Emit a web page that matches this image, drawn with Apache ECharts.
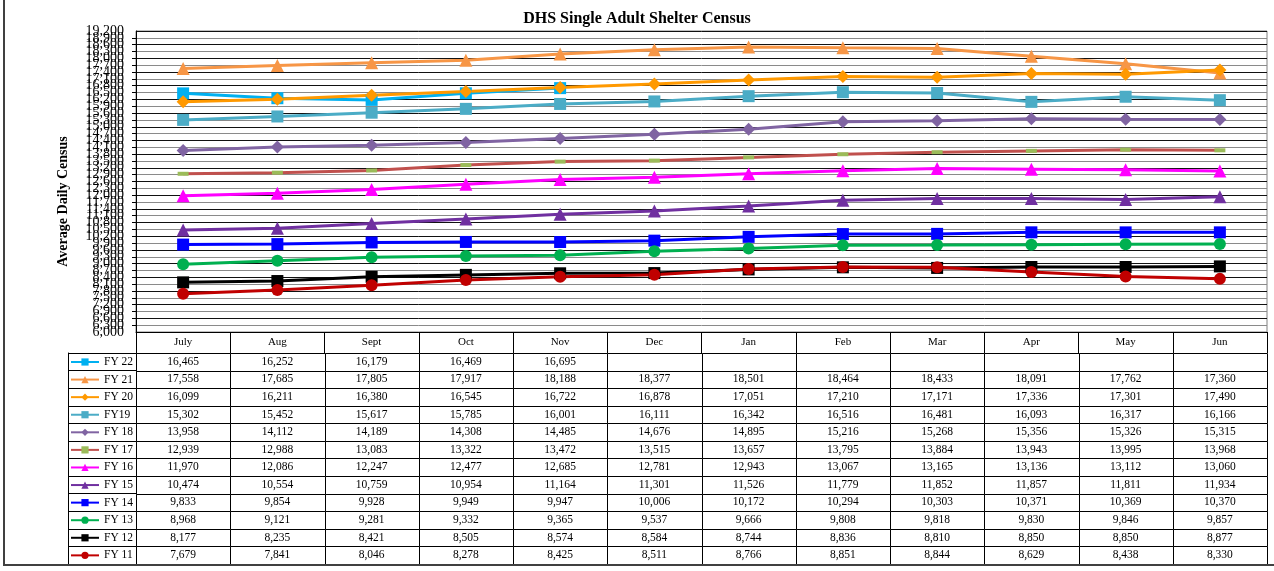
<!DOCTYPE html>
<html>
<head>
<meta charset="utf-8">
<title>DHS Single Adult Shelter Census</title>
<script src="https://cdn.jsdelivr.net/npm/echarts@6/dist/echarts.min.js"></script>
<style>
  html, body { margin: 0; padding: 0; background: #fff; }
  #chart { width: 1274px; height: 571px; }
</style>
</head>
<body>
<div id="chart"></div>
<script>
// months of the fiscal year (July - June)
const months = ['July', 'Aug', 'Sept', 'Oct', 'Nov', 'Dec', 'Jan', 'Feb', 'Mar', 'Apr', 'May', 'Jun'];

// average daily census per fiscal year
const fy22 = [16465, 16252, 16179, 16469, 16695, null, null, null, null, null, null, null];
const fy21 = [17558, 17685, 17805, 17917, 18188, 18377, 18501, 18464, 18433, 18091, 17762, 17360];
const fy20 = [16099, 16211, 16380, 16545, 16722, 16878, 17051, 17210, 17171, 17336, 17301, 17490];
const fy19 = [15302, 15452, 15617, 15785, 16001, 16111, 16342, 16516, 16481, 16093, 16317, 16166];
const fy18 = [13958, 14112, 14189, 14308, 14485, 14676, 14895, 15216, 15268, 15356, 15326, 15315];
const fy17 = [12939, 12988, 13083, 13322, 13472, 13515, 13657, 13795, 13884, 13943, 13995, 13968];
const fy16 = [11970, 12086, 12247, 12477, 12685, 12781, 12943, 13067, 13165, 13136, 13112, 13060];
const fy15 = [10474, 10554, 10759, 10954, 11164, 11301, 11526, 11779, 11852, 11857, 11811, 11934];
const fy14 = [9833, 9854, 9928, 9949, 9947, 10006, 10172, 10294, 10303, 10371, 10369, 10370];
const fy13 = [8968, 9121, 9281, 9332, 9365, 9537, 9666, 9808, 9818, 9830, 9846, 9857];
const fy12 = [8177, 8235, 8421, 8505, 8574, 8584, 8744, 8836, 8810, 8850, 8850, 8877];
const fy11 = [7679, 7841, 8046, 8278, 8425, 8511, 8766, 8851, 8844, 8629, 8438, 8330];

const names = ['FY 22', 'FY 21', 'FY 20', 'FY19', 'FY 18', 'FY 17', 'FY 16', 'FY 15', 'FY 14', 'FY 13', 'FY 12', 'FY 11'];
const rows = [fy22, fy21, fy20, fy19, fy18, fy17, fy16, fy15, fy14, fy13, fy12, fy11];

// y axis range
const yMin = 6000;
const yMax = 19200;
const yStep = 300;

const serif = '"Liberation Serif", "Times New Roman", serif';

function fmt (v) {
  return v == null ? '' : v.toLocaleString('en-US');
}

function lineSeries (i, color, symbol, size, markerColor) {
  return {
    name: names[i],
    type: 'line',
    xAxisIndex: 0,
    yAxisIndex: 0,
    data: rows[i],
    symbol: symbol,
    symbolSize: size,
    showAllSymbol: true,
    connectNulls: false,
    lineStyle: { color: color, width: 3 },
    itemStyle: { color: markerColor || color, borderWidth: 0 },
    emphasis: { disabled: true }
  };
}

// one cell per fiscal year / month for the data table
const cells = [];
rows.forEach((r, ri) => {
  months.forEach((m, ci) => {
    cells.push([ci, ri]);
  });
});

const yLabelStyle = {
  margin: 12,
  fontFamily: serif,
  fontSize: 14,
  color: '#000'
};

let myChart = echarts.init(document.getElementById('chart'));
myChart.setOption({
  animation: false,
  backgroundColor: '#fff',
  title: {
    text: 'DHS Single Adult Shelter Census',
    left: 'center',
    top: 6,
    textStyle: {
      fontFamily: serif,
      fontSize: 16,
      fontWeight: 'bold',
      color: '#000'
    }
  },
  legend: {
    data: names,
    orient: 'vertical',
    left: 70,
    top: 353.2,
    padding: 0,
    itemGap: 0,
    itemWidth: 28,
    itemHeight: 9,
    selectedMode: false,
    textStyle: {
      fontFamily: serif,
      fontSize: 11.5,
      color: '#000',
      lineHeight: 17.58
    }
  },
  grid: [
    {
      left: 136,
      right: 7,
      top: 31,
      height: 301,
      show: true,
      borderColor: '#808080',
      borderWidth: 1
    },
    {
      left: 136,
      right: 7,
      top: 353,
      height: 211
    }
  ],
  xAxis: [
    {
      gridIndex: 0,
      type: 'category',
      data: months,
      boundaryGap: true,
      axisLine: { lineStyle: { color: '#000', width: 1 } },
      axisTick: {
        show: true,
        interval: 0,
        length: 21,
        lineStyle: { color: '#000' }
      },
      axisLabel: {
        interval: 0,
        margin: 4.5,
        fontFamily: serif,
        fontSize: 11,
        color: '#000'
      },
      splitLine: { show: false }
    },
    {
      gridIndex: 1,
      type: 'category',
      data: months,
      show: false
    }
  ],
  yAxis: [
    {
      gridIndex: 0,
      type: 'value',
      position: 'left',
      min: yMin,
      max: yMax,
      interval: yStep,
      name: 'Average Daily Census',
      nameLocation: 'middle',
      nameGap: 66,
      nameTextStyle: {
        fontFamily: serif,
        fontSize: 14,
        fontWeight: 'bold',
        color: '#000',
        padding: [0, 40, 0, 0]
      },
      axisLine: { show: true, lineStyle: { color: '#000', width: 1 } },
      axisTick: { show: true, length: 4, lineStyle: { color: '#000' } },
      // end labels come from the helper axis below, so crowded inner labels are all kept
      axisLabel: Object.assign({
        showMinLabel: false,
        showMaxLabel: false,
        formatter: function (v) { return fmt(v); }
      }, yLabelStyle),
      splitLine: {
        show: true,
        lineStyle: { color: ['#111', '#8a8a8a'], width: 1 }
      }
    },
    {
      gridIndex: 1,
      type: 'category',
      data: names,
      inverse: true,
      position: 'left',
      axisLine: { show: true, lineStyle: { color: '#000' } },
      axisTick: {
        show: true,
        interval: 0,
        length: 68,
        lineStyle: { color: '#000' }
      },
      axisLabel: { show: false },
      splitLine: { show: false }
    },
    {
      // left border of the legend column
      gridIndex: 1,
      type: 'category',
      data: names,
      inverse: true,
      position: 'left',
      offset: 68,
      axisLine: { show: true, lineStyle: { color: '#000' } },
      axisTick: { show: false },
      axisLabel: { show: false },
      splitLine: { show: false }
    },
    {
      // helper axis: only the 6,000 and 19,200 labels
      gridIndex: 0,
      type: 'value',
      position: 'left',
      min: yMin,
      max: yMax,
      interval: yStep,
      axisLine: { show: false },
      axisTick: { show: false },
      splitLine: { show: false },
      axisLabel: Object.assign({
        showMinLabel: true,
        showMaxLabel: true,
        formatter: function (v) { return (v === yMin || v === yMax) ? fmt(v) : ''; }
      }, yLabelStyle)
    }
  ],
  series: [
    lineSeries(0, '#00B0F0', 'rect', 12),
    lineSeries(1, '#F79646', 'triangle', 13),
    lineSeries(2, '#FF9900', 'diamond', 13),
    lineSeries(3, '#4BACC6', 'rect', 12),
    lineSeries(4, '#8064A2', 'diamond', 13),
    lineSeries(5, '#C0504D', 'rect', [11, 4], '#9BBB59'),
    lineSeries(6, '#FF00FF', 'triangle', 13),
    lineSeries(7, '#7030A0', 'triangle', 13),
    lineSeries(8, '#0000FF', 'rect', 12),
    lineSeries(9, '#00B050', 'circle', 12),
    lineSeries(10, '#000000', 'rect', 12),
    lineSeries(11, '#C00000', 'circle', 12),
    {
      name: 'table',
      type: 'custom',
      xAxisIndex: 1,
      yAxisIndex: 1,
      silent: true,
      data: cells,
      encode: { x: 0, y: 1 },
      renderItem: function (params, api) {
        let col = api.value(0);
        let row = api.value(1);
        let p = api.coord([col, row]);
        let s = api.size([1, 1]);
        let x0 = Math.round(p[0] - s[0] / 2) + 0.5;
        let x1 = Math.round(p[0] + s[0] / 2) + 0.5;
        let y0 = Math.round(p[1] - s[1] / 2) + 0.5;
        let y1 = Math.round(p[1] + s[1] / 2) + 0.5;
        return {
          type: 'group',
          children: [
            {
              type: 'rect',
              shape: { x: x0, y: y0, width: x1 - x0, height: y1 - y0 },
              style: { fill: '#fff', stroke: '#000', lineWidth: 1 }
            },
            {
              type: 'text',
              x: p[0],
              y: p[1],
              style: {
                text: fmt(rows[row][col]),
                align: 'center',
                verticalAlign: 'middle',
                font: '11.5px ' + serif,
                fill: '#000'
              }
            }
          ]
        };
      }
    }
  ],
  graphic: [
    {
      type: 'rect',
      silent: true,
      z: 100,
      shape: { x: 4, y: -4, width: 1300, height: 569 },
      style: { fill: 'none', stroke: '#404040', lineWidth: 2 }
    }
  ]
});
</script>
</body>
</html>
